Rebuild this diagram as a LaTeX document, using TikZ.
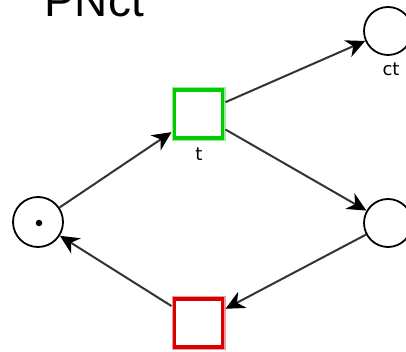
\documentclass[tikz,border=0pt]{standalone}
\usepackage{fontspec}
\setmainfont{Liberation Sans}
\newfontfamily\labelfont{DejaVu Sans}
\usetikzlibrary{arrows.meta}
\definecolor{edgegray}{HTML}{333333}
\definecolor{fireon}{HTML}{00CC00}
\definecolor{fireonglow}{HTML}{9CEB9C}
\definecolor{fireoff}{HTML}{D80000}
\definecolor{fireoffglow}{HTML}{F29A9A}
\tikzset{
  place/.style={circle, draw=black, line width=1.8pt, minimum size=48pt, inner sep=0pt, fill=white},
  trans/.style={rectangle, minimum size=48pt, inner sep=0pt, fill=white},
  arc/.style={draw=edgegray, line width=2pt,
    -{Stealth[length=19pt, width=18pt, inset=6pt, color=black]}},
  lbl/.style={font=\labelfont\fontsize{18}{20}\selectfont, text=black, inner sep=0pt},
  token/.style={circle, fill=black, minimum size=6.5pt, inner sep=0pt}
}
\begin{document}
\begin{tikzpicture}[x=1pt, y=-1pt]
  \useasboundingbox (0,0) rectangle (406,352);
  \fill[white] (0,0) rectangle (406,352);

  % title
  \node[anchor=base west, inner sep=0pt, font=\fontsize{46}{50}\selectfont] (title) at (44,17) {PNct};

  % places
  \node[place] (pct) at (388,31) {};
  \node[place, minimum size=50pt] (pin) at (38,222) {};
  \node[token] (tok) at (39,223) {};
  \node[place] (pout) at (388,223) {};

  % transitions: enabled (green) and disabled (red), drawn with a soft halo
  \node[trans, draw=fireonglow, line width=6pt] (t) at (198.5,114) {};
  \node[trans, draw=fireon, line width=3.2pt] at (198.5,114) {};
  \node[trans, draw=fireoffglow, line width=6pt] (u) at (198.5,323) {};
  \node[trans, draw=fireoff, line width=3.2pt] at (198.5,323) {};

  % labels
  \node[lbl] (lct) at (391,69) {ct};
  \node[lbl] (lt) at (199,154) {t};

  % arcs
  \draw[arc] (pin) -- (t);
  \draw[arc] (t) -- (pct);
  \draw[arc] (t) -- (pout);
  \draw[arc] (pout) -- (u);
  \draw[arc] (u) -- (pin);
\end{tikzpicture}
\end{document}
